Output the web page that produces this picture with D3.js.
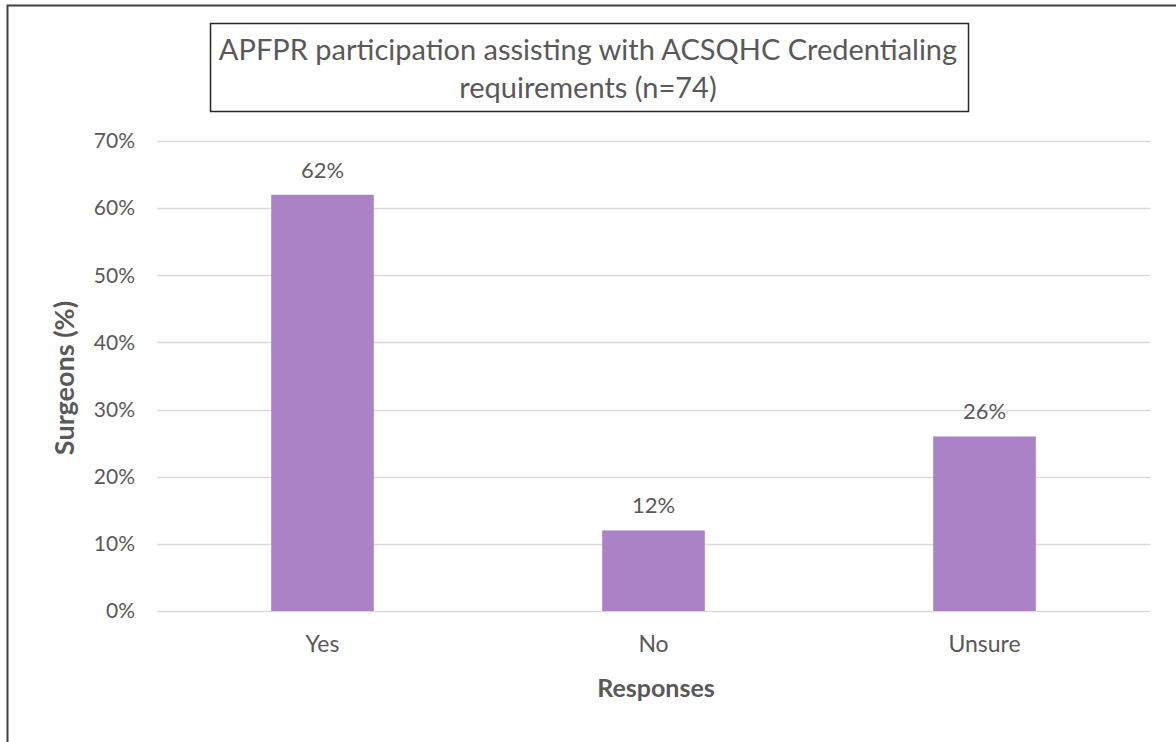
<!DOCTYPE html>
<html>
<head>
<meta charset="utf-8">
<script src="https://cdn.jsdelivr.net/npm/d3@7"></script>
<style>
  html, body { margin: 0; padding: 0; background: #fff; }
  svg { display: block; }
  text { font-family: Lato, "Open Sans", sans-serif; fill: #595959; }
</style>
</head>
<body>
<script>
// Survey responses (share of surgeons, %)
const categories = ["Yes", "No", "Unsure"];
const values = [62, 12, 26];
const yTicks = [0, 10, 20, 30, 40, 50, 60, 70];
const titleLines = ["APFPR participation assisting with ACSQHC Credentialing", "requirements (n=74)"];
const xAxisTitle = "Responses";
const yAxisTitle = "Surgeons (%)";

const W = 1176, H = 742;
const FONT = "Lato, 'Open Sans', sans-serif";
const svg = d3.select("body").append("svg").attr("width", W).attr("height", H);

// Outer frame
svg.append("path")
  .attr("d", `M7.5,${H} V5.5 H${W}`)
  .attr("fill", "none").attr("stroke", "#404040").attr("stroke-width", 2);

const plot = { left: 157, right: 1150, top: 141, bottom: 611 };

const x = d3.scaleBand().domain(categories)
  .range([plot.left, plot.right]).paddingInner(0.69).paddingOuter(0.345);
const y = d3.scaleLinear().domain([0, 70]).range([plot.bottom, plot.top]);

// Gridlines
svg.append("g").selectAll("line").data(yTicks).join("line")
  .attr("x1", plot.left).attr("x2", plot.right)
  .attr("y1", d => Math.round(y(d)) + 0.5).attr("y2", d => Math.round(y(d)) + 0.5)
  .attr("stroke", "#d9d9d9").attr("stroke-width", 1.5);

// Y axis tick labels
const yAxis = d3.axisLeft(y).tickValues(yTicks).tickFormat(d => d + "%").tickSize(0).tickPadding(0);
const gy = svg.append("g").attr("transform", `translate(135,0)`).call(yAxis);
gy.select(".domain").remove();
gy.selectAll("text").attr("font-size", 21).attr("fill", "#595959")
  .style("font-family", FONT);

// Bars
svg.append("g").selectAll("rect").data(categories).join("rect")
  .attr("x", d => x(d)).attr("width", x.bandwidth())
  .attr("y", (d, i) => y(values[i])).attr("height", (d, i) => y(0) - y(values[i]))
  .attr("fill", "#ab82c5");

// Value labels
svg.append("g").selectAll("text").data(categories).join("text")
  .attr("x", d => x(d) + x.bandwidth() / 2)
  .attr("y", (d, i) => y(values[i]) - 17)
  .attr("text-anchor", "middle").attr("font-size", 22)
  .text((d, i) => values[i] + "%");

// X axis category labels
const xAxis = d3.axisBottom(x).tickSize(0).tickPadding(0);
const gx = svg.append("g").attr("transform", `translate(0,${plot.bottom + 25})`).call(xAxis);
gx.select(".domain").remove();
gx.selectAll("text").attr("font-size", 23).attr("fill", "#595959")
  .style("font-family", FONT);

// Axis titles
svg.append("text")
  .attr("x", 656).attr("y", 697)
  .attr("text-anchor", "middle").attr("font-size", 25).attr("font-weight", "bold")
  .text(xAxisTitle);
svg.append("text")
  .attr("transform", "translate(74,378) rotate(-90)")
  .attr("text-anchor", "middle").attr("font-size", 27).attr("font-weight", "bold")
  .text(yAxisTitle);

// Title box
svg.append("rect")
  .attr("x", 210.5).attr("y", 23.5).attr("width", 758).attr("height", 88)
  .attr("fill", "#fff").attr("stroke", "#262626").attr("stroke-width", 1.5);
svg.append("g").selectAll("text").data(titleLines).join("text")
  .attr("x", 588).attr("y", (d, i) => 60 + i * 38)
  .attr("text-anchor", "middle").attr("font-size", 29).attr("fill", "#4d4d4d")
  .text(d => d);
</script>
</body>
</html>
